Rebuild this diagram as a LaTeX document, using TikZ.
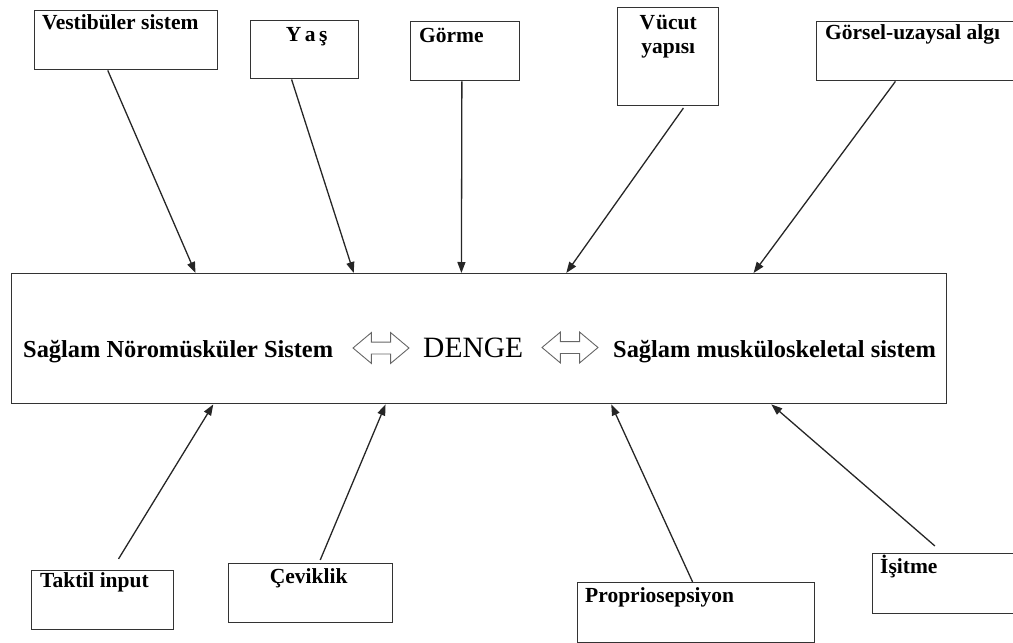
\documentclass[tikz,border=0pt]{standalone}
\usepackage{fontspec}
\setmainfont{Liberation Serif}
\usetikzlibrary{arrows.meta,calc,shapes.arrows}

\tikzset{
	kutu/.style={draw=black!80,line width=1.4pt,anchor=north west,inner sep=0pt},
	yazi/.style={font=\bfseries\fontsize{21.5}{20}\selectfont,inner sep=0pt},
	etiket/.style={yazi,text height=15pt,text depth=5pt},
	ok/.style={-{Triangle[length=11pt,width=8pt]},line width=1.3pt,black!85},
	cift/.style={double arrow,draw=black!60,line width=0.9pt,inner sep=5.5pt,minimum height=56pt,
		double arrow head extend=9.5pt,double arrow tip angle=80}
}

\begin{document}
\begin{tikzpicture}[x=1pt,y=-1pt]
	\useasboundingbox (0,0) rectangle (1013,643);

	% main block
	\node[kutu,minimum width=935pt,minimum height=130pt] (main) at (11,273) {};
	\node[anchor=base west,font=\bfseries\fontsize{24.4}{24}\selectfont,inner sep=0pt] (sol) at (23,357) {Sağlam Nöromüsküler Sistem};
	\node[anchor=base west,font=\fontsize{29.5}{29}\selectfont,inner sep=0pt] (denge) at (423,357) {DENGE};
	\node[anchor=base west,font=\bfseries\fontsize{24.4}{24}\selectfont,inner sep=0pt] (sag) at (613,357) {Sağlam musküloskeletal sistem};
	\node[cift] (lok) at (381,348) {};
	\node[cift] (rok) at (570,347.5) {};

	% top blocks
	\node[kutu,minimum width=183pt,minimum height=59pt,
		label={[etiket,anchor=north west,xshift=8pt,yshift=-4pt]north west:Vestibüler sistem}] (vest) at (34,10) {};
	\node[kutu,minimum width=108pt,minimum height=58pt,
		label={[etiket,anchor=north,xshift=2pt,yshift=-6pt]north:Y\,a\,ş}] (yas) at (250,20) {};
	\node[kutu,minimum width=109pt,minimum height=59pt,
		label={[etiket,anchor=north west,xshift=9pt,yshift=-6pt]north west:Görme}] (gorme) at (410,21) {};
	\node[kutu,minimum width=101pt,minimum height=98pt,
		label={[yazi,anchor=north,align=center,yshift=-8pt]north:V\kern1ptücut\\[4pt]yapısı}] (vucut) at (617,7) {};
	\node[kutu,minimum width=215pt,minimum height=59pt,
		label={[etiket,anchor=north west,xshift=9pt,yshift=-3pt]north west:Görsel-uzaysal algı}] (gorsel) at (816,21) {};

	% bottom blocks
	\node[kutu,minimum width=142pt,minimum height=59pt,
		label={[etiket,anchor=north west,xshift=9pt,yshift=-2pt]north west:Taktil input}] (taktil) at (31,570) {};
	\node[kutu,minimum width=164pt,minimum height=59pt,
		label={[etiket,anchor=north,xshift=-2pt,yshift=-5pt]north:Çeviklik}] (cevik) at (228,563) {};
	\node[kutu,minimum width=237pt,minimum height=60pt,
		label={[etiket,anchor=north west,xshift=8pt,yshift=-5pt]north west:Propriosepsiyon}] (propri) at (577,582) {};
	\node[kutu,minimum width=160pt,minimum height=60pt,
		label={[etiket,anchor=north west,xshift=8pt,yshift=-5pt]north west:İşitme}] (isitme) at (872,553) {};

	%Links
	% top blocks to main block
	\draw[ok] ($(vest.south west)!0.40!(vest.south east)$) -- ($(main.north west)!0.197!(main.north east)$);
	\draw[ok] ($(yas.south west)!0.38!(yas.south east)$) -- ($(main.north west)!0.366!(main.north east)$);
	\draw[ok] ($(gorme.south west)!0.47!(gorme.south east)$) -- ($(main.north west)!0.481!(main.north east)$);
	\draw[ok,shorten <=2pt] ($(vucut.south west)!0.66!(vucut.south east)$) -- ($(main.north west)!0.593!(main.north east)$);
	\draw[ok] ($(gorsel.south west)!0.367!(gorsel.south east)$) -- ($(main.north west)!0.793!(main.north east)$);
	% bottom blocks to main block
	\draw[ok,shorten <=13pt] ($(taktil.north west)!0.563!(taktil.north east)$) -- ($(main.south west)!0.216!(main.south east)$);
	\draw[ok,shorten <=3.3pt] ($(cevik.north west)!0.55!(cevik.north east)$) -- ($(main.south west)!0.4!(main.south east)$);
	\draw[ok] ($(propri.north west)!0.485!(propri.north east)$) -- ($(main.south west)!0.641!(main.south east)$);
	\draw[ok,shorten <=10.8pt] ($(isitme.north west)!0.44!(isitme.north east)$) -- ($(main.south west)!0.812!(main.south east)$);

\end{tikzpicture}
\end{document}
